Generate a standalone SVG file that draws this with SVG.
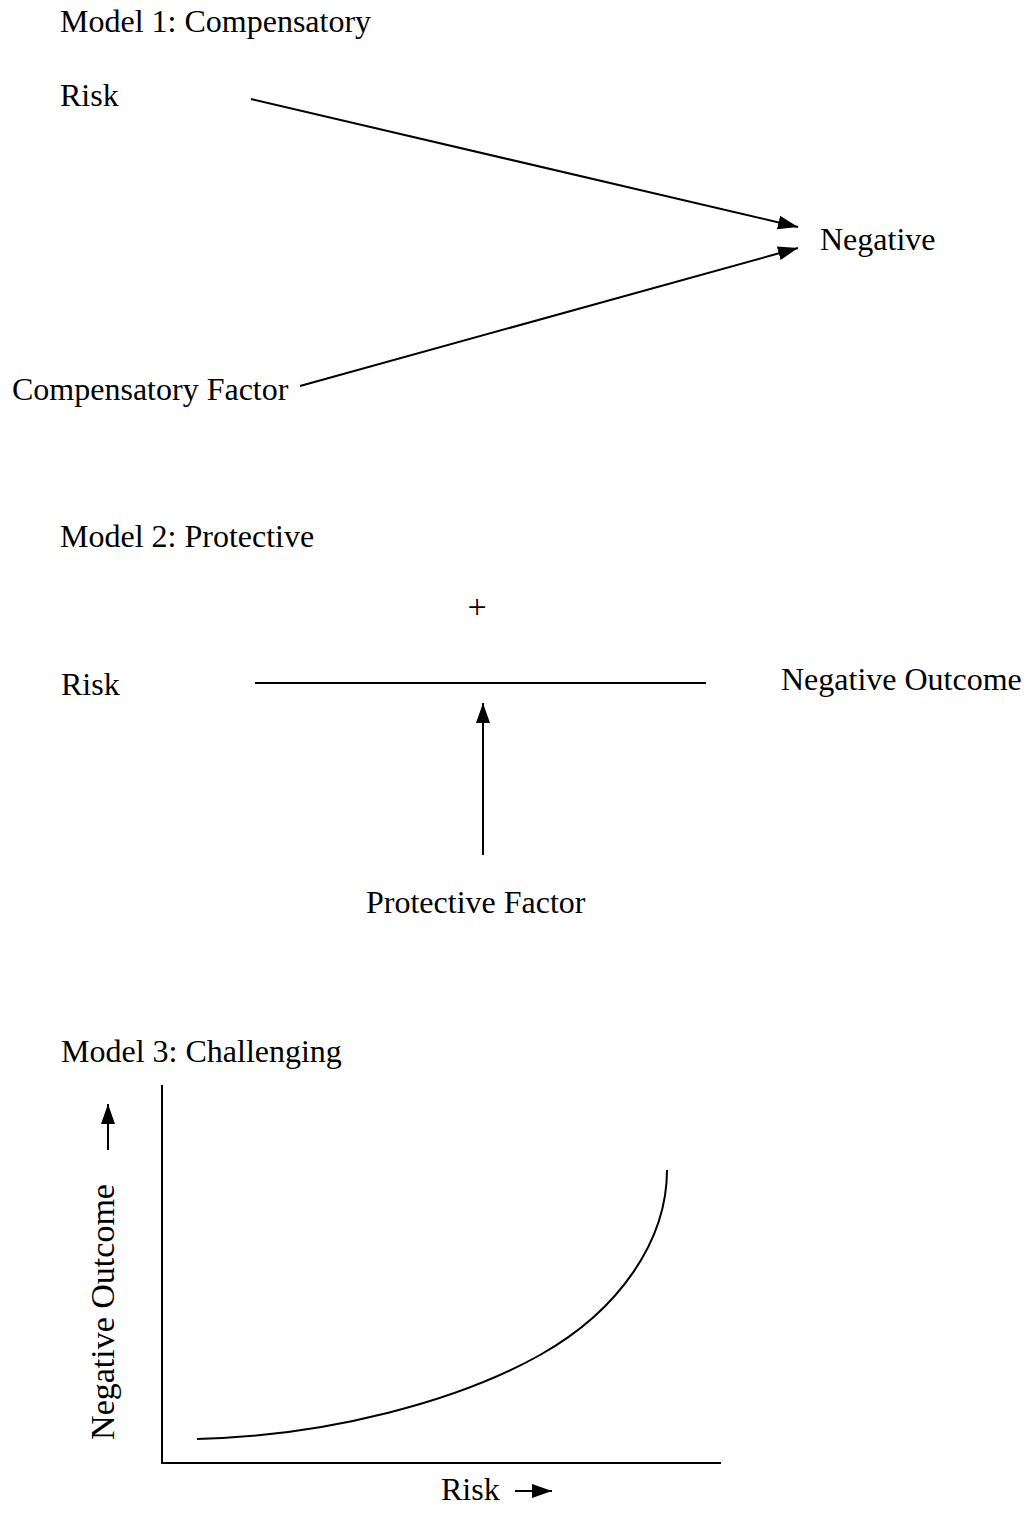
<svg xmlns="http://www.w3.org/2000/svg" width="1029" height="1515" viewBox="0 0 1029 1515">
<style>
text{font-family:"Liberation Serif","Times New Roman",serif;font-size:32px;fill:#000}
.ln{stroke:#000;stroke-width:2;fill:none}
</style>
<defs>
<marker id="ah2" viewBox="0 0 10 10" refX="10" refY="5" markerWidth="20" markerHeight="20" markerUnits="userSpaceOnUse" orient="auto">
<path d="M0,1.5 L10,5 L0,8.5 z" fill="#000"/>
</marker>
</defs>
<rect width="1029" height="1515" fill="#fff"/>
<g id="titles">
<text x="60" y="32">Model 1: Compensatory</text>
<text x="60" y="547">Model 2: Protective</text>
<text x="61" y="1062">Model 3: Challenging</text>
</g>
<g id="m1-risk"><text x="60" y="106">Risk</text></g>
<g id="m1-negative"><text x="820" y="250">Negative</text></g>
<g id="m1-comp"><text x="12" y="400">Compensatory Factor</text></g>
<g id="m2-risk"><text x="61" y="695">Risk</text></g>
<g id="m2-plus"><text x="477" y="618" text-anchor="middle" style="font-size:34px">+</text></g>
<g id="m2-negout"><text x="781" y="690">Negative Outcome</text></g>
<g id="m2-prot"><text x="366" y="913">Protective Factor</text></g>
<g id="m3-ylabel"><text transform="translate(114,1312) rotate(-90)" text-anchor="middle" style="font-size:34px">Negative Outcome</text></g>
<g id="m3-xlabel"><text x="441" y="1500">Risk</text></g>
<g id="connectors">
<line class="ln" x1="251" y1="99" x2="798" y2="227" marker-end="url(#ah2)"/>
<line class="ln" x1="300" y1="386" x2="798" y2="248" marker-end="url(#ah2)"/>
<line class="ln" x1="255" y1="683" x2="706" y2="683"/>
<line class="ln" x1="483" y1="855" x2="483" y2="703" marker-end="url(#ah2)"/>
<line class="ln" x1="108" y1="1150" x2="108" y2="1104" marker-end="url(#ah2)"/>
<line class="ln" x1="515" y1="1491" x2="552" y2="1491" marker-end="url(#ah2)"/>
</g>
<g id="chart">
<path class="ln" d="M162,1085 L162,1463 L721,1463"/>
<path class="ln" d="M197,1439 C330,1436 460,1400 540,1355 C620,1310 667,1240 667,1170"/>
</g>
</svg>
